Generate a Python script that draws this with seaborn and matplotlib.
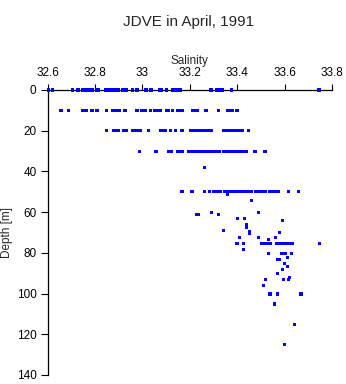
import matplotlib
matplotlib.use("Agg")
import matplotlib.pyplot as plt
import seaborn as sns
import pandas as pd

# Salinity readings on the regular sampling depths
sal_0m = [32.603, 32.622, 32.703, 32.728, 32.749, 32.757, 32.770, 32.787, 32.808, 32.814,
          32.846, 32.859, 32.871, 32.884, 32.897, 32.914, 32.922, 32.934, 32.956, 32.977,
          33.015, 33.036, 33.074, 33.082, 33.103, 33.129, 33.141, 33.154, 33.162, 33.289,
          33.314, 33.327, 33.336, 33.374, 33.745]
sal_10m = [32.656, 32.686, 32.745, 32.753, 32.762, 32.787, 32.808, 32.850, 32.875, 32.888,
           32.901, 32.926, 32.977, 32.998, 33.011, 33.032, 33.049, 33.061, 33.074, 33.100,
           33.108, 33.125, 33.150, 33.159, 33.167, 33.213, 33.222, 33.234, 33.268, 33.319,
           33.357, 33.363, 33.378, 33.399]
sal_20m = [32.848, 32.876, 32.888, 32.897, 32.918, 32.926, 32.934, 32.956, 32.964, 32.977,
           32.990, 33.027, 33.078, 33.087, 33.099, 33.120, 33.141, 33.167, 33.201, 33.209,
           33.217, 33.226, 33.234, 33.243, 33.251, 33.268, 33.281, 33.293, 33.344, 33.352,
           33.361, 33.369, 33.378, 33.394, 33.403, 33.411, 33.424, 33.449]
sal_30m = [32.989, 33.057, 33.108, 33.116, 33.124, 33.146, 33.154, 33.167, 33.196, 33.205,
           33.213, 33.222, 33.234, 33.243, 33.251, 33.260, 33.268, 33.276, 33.285, 33.293,
           33.302, 33.314, 33.323, 33.344, 33.352, 33.361, 33.369, 33.378, 33.390, 33.403,
           33.416, 33.424, 33.437, 33.475, 33.517]
sal_50m = [33.167, 33.209, 33.260, 33.281, 33.298, 33.314, 33.327, 33.348, 33.361, 33.378,
           33.390, 33.403, 33.416, 33.428, 33.441, 33.454, 33.462, 33.479, 33.496, 33.508,
           33.521, 33.538, 33.551, 33.563, 33.572, 33.618, 33.660]
sal_75m = [33.399, 33.428, 33.504, 33.517, 33.529, 33.542, 33.567, 33.580, 33.593, 33.606,
           33.618, 33.631, 33.749]

# Scattered deeper samples
deep_depth = [38.2, 51.2, 54.2, 60.1, 60.0, 61.0, 61.0, 61.1, 63.0, 63.0, 64.2, 66.0, 67.3,
              69.1, 69.5, 70.5, 70.2, 72.3, 72.3, 73.3, 72.3, 78.3, 80.2, 80.2, 80.2, 80.2,
              82.2, 83.2, 83.2, 85.2, 86.9, 88.2, 90.0, 92.0, 93.0, 93.0, 93.0, 96.1,
              100.2, 100.2, 100.2, 105.1, 115.1, 124.9]
deep_sal = [33.260, 33.359, 33.459, 33.290, 33.489, 33.229, 33.238, 33.320, 33.400, 33.430,
            33.590, 33.438, 33.438, 33.341, 33.451, 33.451, 33.580, 33.408, 33.489, 33.531,
            33.562, 33.428, 33.531, 33.589, 33.602, 33.630, 33.611, 33.568, 33.580, 33.598,
            33.611, 33.590, 33.569, 33.619, 33.597, 33.615, 33.520, 33.510, 33.538, 33.569,
            33.669, 33.559, 33.641, 33.598]

x_ticks = [32.6, 32.8, 33.0, 33.2, 33.4, 33.6, 33.8]
x_tick_labels = ["32.6", "32.8", "33", "33.2", "33.4", "33.6", "33.8"]
y_ticks = [0, 20, 40, 60, 80, 100, 120, 140]

rows = []
for d, vals in [(0, sal_0m), (10, sal_10m), (20, sal_20m), (30, sal_30m),
                (50, sal_50m), (75.3, sal_75m)]:
    rows += [(v, d) for v in vals]
rows += list(zip(deep_sal, deep_depth))
df = pd.DataFrame(rows, columns=["Salinity", "Depth"])

sns.set_theme(style="white")
plt.rcParams["font.family"] = ["Liberation Sans", "DejaVu Sans"]

fig = plt.figure(figsize=(3.46, 3.84), dpi=100)
ax = fig.add_axes([0.1379, 0.02344, 0.8217, 0.7422])

sns.scatterplot(data=df, x="Salinity", y="Depth", ax=ax, marker="s", s=5,
                color="#0000ff", edgecolor="none", linewidth=0, legend=False,
                clip_on=False, zorder=5)

ax.set_xlim(32.6, 33.8)
ax.set_ylim(140, 0)
ax.xaxis.tick_top()
ax.xaxis.set_label_position("top")
ax.set_xticks(x_ticks)
ax.set_xticklabels(x_tick_labels)
ax.set_yticks(y_ticks)
ax.set_xlabel("Salinity", fontsize=8.5, labelpad=2)
ax.set_ylabel("Depth [m]", fontsize=8.5, labelpad=3)
ax.tick_params(axis="x", direction="out", length=4, width=0.8, pad=4,
               labelsize=8.5, colors="black", top=True, bottom=False)
ax.tick_params(axis="y", direction="out", length=5, width=0.8, pad=3,
               labelsize=8.5, colors="black", left=True)
for side in ["right", "bottom"]:
    ax.spines[side].set_visible(False)
for side in ["top", "left"]:
    ax.spines[side].set_color("black")
    ax.spines[side].set_linewidth(0.9)
ax.grid(False)

fig.text(0.545, 0.943, "JDVE in April, 1991", ha="center", va="center", fontsize=11)

fig.savefig("out.png", dpi=100)
